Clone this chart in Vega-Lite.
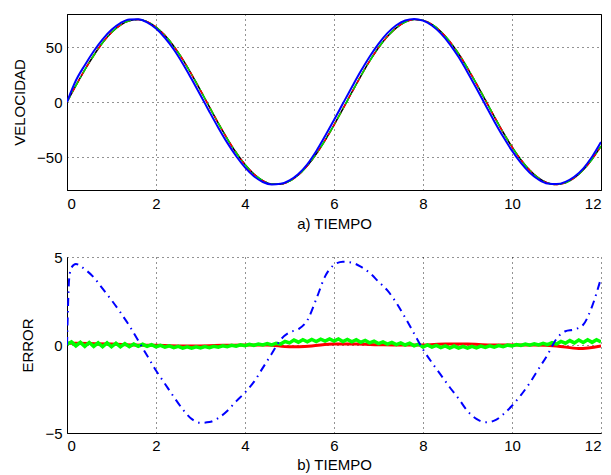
{
  "$schema": "https://vega.github.io/schema/vega-lite/v6.json",
  "padding": {"left": 12, "top": 13, "right": 8, "bottom": 2},
  "background": "white",
  "config": {
    "font": "Liberation Sans",
    "concat": {"spacing": 18},
    "axis": {
      "labelFontSize": 15, "titleFontSize": 15, "titleFontWeight": "normal",
      "labelColor": "black", "titleColor": "black", "domainColor": "black", "domainWidth": 1,
      "ticks": false, "labelPadding": 6, "titlePadding": 9,
      "grid": true, "gridColor": "black", "gridDash": [1, 4], "gridOpacity": 0.85, "gridWidth": 1,
      "labelFont": "Liberation Sans", "titleFont": "Liberation Sans"
    }
  },
  "datasets": {
    "ref": [
      {"t":0,"v":0},{"t":0.2,"v":14.9},{"t":0.4,"v":29.2},{"t":0.6,"v":42.3},{"t":0.8,"v":53.8},{"t":1.0,"v":63.1},{"t":1.2,"v":69.9},{"t":1.4,"v":73.9},{"t":1.6,"v":75.0},{"t":1.8,"v":73.0},{"t":2.0,"v":68.2},{"t":2.2,"v":60.6},{"t":2.4,"v":50.7},{"t":2.6,"v":38.7},{"t":2.8,"v":25.1},{"t":3.0,"v":10.6},{"t":3.2,"v":-4.4},{"t":3.4,"v":-19.2},{"t":3.6,"v":-33.2},{"t":3.8,"v":-45.9},{"t":4.0,"v":-56.8},{"t":4.2,"v":-65.4},{"t":4.4,"v":-71.4},{"t":4.6,"v":-74.5},{"t":4.8,"v":-74.7},{"t":5.0,"v":-71.9},{"t":5.2,"v":-66.3},{"t":5.4,"v":-58.0},{"t":5.6,"v":-47.3},{"t":5.8,"v":-34.8},{"t":6.0,"v":-21.0},{"t":6.2,"v":-6.2},{"t":6.4,"v":8.7},{"t":6.6,"v":23.4},{"t":6.8,"v":37.1},{"t":7.0,"v":49.3},{"t":7.2,"v":59.5},{"t":7.4,"v":67.4},{"t":7.6,"v":72.6},{"t":7.8,"v":74.9},{"t":8.0,"v":74.2},{"t":8.2,"v":70.6},{"t":8.4,"v":64.1},{"t":8.6,"v":55.1},{"t":8.8,"v":43.9},{"t":9.0,"v":30.9},{"t":9.2,"v":16.7},{"t":9.4,"v":1.9},{"t":9.6,"v":-13.1},{"t":9.8,"v":-27.5},{"t":10.0,"v":-40.8},{"t":10.2,"v":-52.5},{"t":10.4,"v":-62.1},{"t":10.6,"v":-69.2},{"t":10.8,"v":-73.6},{"t":11.0,"v":-75.0},{"t":11.2,"v":-73.4},{"t":11.4,"v":-68.9},{"t":11.6,"v":-61.7},{"t":11.8,"v":-52.0},{"t":12.0,"v":-40.2}
    ],
    "blueTop": [
      {"t":0,"v":0},{"t":0.2,"v":19.5},{"t":0.4,"v":33.5},{"t":0.6,"v":46.15},{"t":0.8,"v":57.0},{"t":1.0,"v":65.65},{"t":1.2,"v":71.75},{"t":1.4,"v":75.1},{"t":1.6,"v":75.2},{"t":1.8,"v":72.4},{"t":2.0,"v":66.75},{"t":2.2,"v":58.4},{"t":2.4,"v":47.75},{"t":2.6,"v":35.05},{"t":2.8,"v":20.9},{"t":3.0,"v":6.2},{"t":3.2,"v":-8.8},{"t":3.4,"v":-23.35},{"t":3.6,"v":-36.95},{"t":3.8,"v":-49.1},{"t":4.0,"v":-59.5},{"t":4.2,"v":-67.5},{"t":4.4,"v":-72.7},{"t":4.6,"v":-75.0},{"t":4.8,"v":-74.4},{"t":5.0,"v":-71.2},{"t":5.2,"v":-65.4},{"t":5.4,"v":-56.6},{"t":5.6,"v":-44.7},{"t":5.8,"v":-30.9},{"t":6.0,"v":-16.45},{"t":6.2,"v":-1.45},{"t":6.4,"v":13.4},{"t":6.6,"v":27.85},{"t":6.8,"v":41.2},{"t":7.0,"v":52.9},{"t":7.2,"v":62.6},{"t":7.4,"v":69.8},{"t":7.6,"v":74.15},{"t":7.8,"v":75.55},{"t":8.0,"v":73.95},{"t":8.2,"v":69.6},{"t":8.4,"v":62.4},{"t":8.6,"v":52.7},{"t":8.8,"v":40.85},{"t":9.0,"v":27.15},{"t":9.2,"v":12.5},{"t":9.4,"v":-2.5},{"t":9.6,"v":-17.4},{"t":9.8,"v":-31.45},{"t":10.0,"v":-44.25},{"t":10.2,"v":-55.35},{"t":10.4,"v":-64.25},{"t":10.6,"v":-70.55},{"t":10.8,"v":-74.15},{"t":11.0,"v":-74.65},{"t":11.2,"v":-72.6},{"t":11.4,"v":-68.0},{"t":11.6,"v":-60.55},{"t":11.8,"v":-49.8},{"t":12.0,"v":-36.4}
    ],
    "errBlue": [
      {"t":0,"e":0},{"t":0.05,"e":3.8},{"t":0.1,"e":4.4},{"t":0.2,"e":4.6},{"t":0.4,"e":4.3},{"t":0.6,"e":3.85},{"t":0.8,"e":3.2},{"t":1.0,"e":2.55},{"t":1.2,"e":1.85},{"t":1.4,"e":1.1},{"t":1.6,"e":0.25},{"t":1.8,"e":-0.6},{"t":2.0,"e":-1.45},{"t":2.2,"e":-2.2},{"t":2.4,"e":-2.95},{"t":2.6,"e":-3.65},{"t":2.8,"e":-4.2},{"t":3.0,"e":-4.42},{"t":3.2,"e":-4.38},{"t":3.4,"e":-4.15},{"t":3.6,"e":-3.75},{"t":3.8,"e":-3.2},{"t":4.0,"e":-2.7},{"t":4.2,"e":-2.1},{"t":4.4,"e":-1.3},{"t":4.6,"e":-0.5},{"t":4.8,"e":0.3},{"t":5.0,"e":0.72},{"t":5.2,"e":0.9},{"t":5.4,"e":1.4},{"t":5.6,"e":2.6},{"t":5.8,"e":3.9},{"t":6.0,"e":4.55},{"t":6.2,"e":4.73},{"t":6.4,"e":4.68},{"t":6.6,"e":4.45},{"t":6.8,"e":4.1},{"t":7.0,"e":3.6},{"t":7.2,"e":3.1},{"t":7.4,"e":2.4},{"t":7.6,"e":1.55},{"t":7.8,"e":0.65},{"t":8.0,"e":-0.25},{"t":8.2,"e":-1.0},{"t":8.4,"e":-1.7},{"t":8.6,"e":-2.4},{"t":8.8,"e":-3.05},{"t":9.0,"e":-3.75},{"t":9.2,"e":-4.2},{"t":9.4,"e":-4.39},{"t":9.6,"e":-4.3},{"t":9.8,"e":-3.95},{"t":10.0,"e":-3.45},{"t":10.2,"e":-2.85},{"t":10.4,"e":-2.15},{"t":10.6,"e":-1.35},{"t":10.8,"e":-0.55},{"t":11.0,"e":0.35},{"t":11.2,"e":0.78},{"t":11.4,"e":0.88},{"t":11.6,"e":1.15},{"t":11.8,"e":2.2},{"t":12.0,"e":3.8}
    ],
    "errRed": [
      {"t":0,"e":0.1},{"t":0.5,"e":0.08},{"t":1.0,"e":0.05},{"t":1.5,"e":0.0},{"t":2.0,"e":-0.02},{"t":2.5,"e":-0.05},{"t":3.0,"e":-0.05},{"t":3.5,"e":-0.02},{"t":4.0,"e":0.0},{"t":4.5,"e":0.0},{"t":5.0,"e":-0.1},{"t":5.5,"e":-0.05},{"t":6.0,"e":0.05},{"t":6.5,"e":0.05},{"t":7.0,"e":0.02},{"t":7.5,"e":0.0},{"t":8.0,"e":0.0},{"t":8.5,"e":0.05},{"t":9.0,"e":0.05},{"t":9.5,"e":0.0},{"t":10.0,"e":0.0},{"t":10.5,"e":0.0},{"t":11.0,"e":-0.05},{"t":11.5,"e":-0.2},{"t":12.0,"e":-0.05}
    ],
    "errGreen": [
      {"t":0.0,"e":0.05},{"t":0.1,"e":0.18},{"t":0.2,"e":-0.05},{"t":0.3,"e":0.15},{"t":0.4,"e":-0.08},{"t":0.5,"e":0.14},{"t":0.6,"e":-0.08},{"t":0.7,"e":0.12},{"t":0.8,"e":-0.1},{"t":0.9,"e":0.12},{"t":1.0,"e":-0.1},{"t":1.1,"e":0.1},{"t":1.2,"e":-0.1},{"t":1.3,"e":0.08},{"t":1.4,"e":-0.1},{"t":1.5,"e":0.06},{"t":1.6,"e":-0.08},{"t":1.7,"e":0.04},{"t":1.8,"e":-0.08},{"t":1.9,"e":0.02},{"t":2.0,"e":-0.1},{"t":2.1,"e":-0.02},{"t":2.2,"e":-0.12},{"t":2.3,"e":-0.05},{"t":2.4,"e":-0.15},{"t":2.5,"e":-0.08},{"t":2.6,"e":-0.18},{"t":2.7,"e":-0.1},{"t":2.8,"e":-0.18},{"t":2.9,"e":-0.1},{"t":3.0,"e":-0.17},{"t":3.1,"e":-0.09},{"t":3.2,"e":-0.15},{"t":3.3,"e":-0.07},{"t":3.4,"e":-0.13},{"t":3.5,"e":-0.05},{"t":3.6,"e":-0.1},{"t":3.7,"e":-0.02},{"t":3.8,"e":-0.07},{"t":3.9,"e":0.01},{"t":4.0,"e":-0.04},{"t":4.1,"e":0.04},{"t":4.2,"e":-0.02},{"t":4.3,"e":0.06},{"t":4.4,"e":0.0},{"t":4.5,"e":0.08},{"t":4.6,"e":0.0},{"t":4.7,"e":0.1},{"t":4.8,"e":0.05},{"t":4.9,"e":0.2},{"t":5.0,"e":0.12},{"t":5.1,"e":0.28},{"t":5.2,"e":0.16},{"t":5.3,"e":0.3},{"t":5.4,"e":0.18},{"t":5.5,"e":0.32},{"t":5.6,"e":0.2},{"t":5.7,"e":0.33},{"t":5.8,"e":0.22},{"t":5.9,"e":0.34},{"t":6.0,"e":0.22},{"t":6.1,"e":0.34},{"t":6.2,"e":0.2},{"t":6.3,"e":0.32},{"t":6.4,"e":0.18},{"t":6.5,"e":0.3},{"t":6.6,"e":0.15},{"t":6.7,"e":0.26},{"t":6.8,"e":0.12},{"t":6.9,"e":0.22},{"t":7.0,"e":0.08},{"t":7.1,"e":0.18},{"t":7.2,"e":0.05},{"t":7.3,"e":0.15},{"t":7.4,"e":0.02},{"t":7.5,"e":0.12},{"t":7.6,"e":0.0},{"t":7.7,"e":0.1},{"t":7.8,"e":-0.05},{"t":7.9,"e":0.05},{"t":8.0,"e":-0.12},{"t":8.1,"e":0.0},{"t":8.2,"e":-0.12},{"t":8.3,"e":-0.02},{"t":8.4,"e":-0.15},{"t":8.5,"e":-0.05},{"t":8.6,"e":-0.18},{"t":8.7,"e":-0.06},{"t":8.8,"e":-0.18},{"t":8.9,"e":-0.08},{"t":9.0,"e":-0.18},{"t":9.1,"e":-0.08},{"t":9.2,"e":-0.16},{"t":9.3,"e":-0.06},{"t":9.4,"e":-0.14},{"t":9.5,"e":-0.05},{"t":9.6,"e":-0.12},{"t":9.7,"e":-0.03},{"t":9.8,"e":-0.09},{"t":9.9,"e":0.0},{"t":10.0,"e":-0.06},{"t":10.1,"e":0.02},{"t":10.2,"e":-0.03},{"t":10.3,"e":0.05},{"t":10.4,"e":-0.01},{"t":10.5,"e":0.07},{"t":10.6,"e":0.0},{"t":10.7,"e":0.1},{"t":10.8,"e":0.02},{"t":10.9,"e":0.14},{"t":11.0,"e":0.05},{"t":11.1,"e":0.2},{"t":11.2,"e":0.1},{"t":11.3,"e":0.25},{"t":11.4,"e":0.12},{"t":11.5,"e":0.28},{"t":11.6,"e":0.14},{"t":11.7,"e":0.3},{"t":11.8,"e":0.15},{"t":11.9,"e":0.3},{"t":12.0,"e":0.18}
    ]
  },
  "vconcat": [
    {
      "width": 534, "height": 176,
      "view": {"stroke": "black", "strokeWidth": 1},
      "encoding": {
        "x": {"field": "t", "type": "quantitative", "scale": {"domain": [0, 12], "nice": false, "zero": false},
              "axis": {"values": [0,2,4,6,8,10,12], "title": "a) TIEMPO", "labelPadding": 6, "titlePadding": 5}},
        "y": {"field": "v", "type": "quantitative", "scale": {"domain": [-80, 80], "nice": false},
              "axis": {"values": [-50, 0, 50], "title": "VELOCIDAD", "labelPadding": 5, "titlePadding": 9}}
      },
      "layer": [
        {"data": {"name": "ref"}, "mark": {"type": "line", "color": "black", "strokeWidth": 1.5, "interpolate": "monotone", "clip": true}},
        {"data": {"name": "ref"}, "mark": {"type": "line", "color": "#ff0000", "strokeWidth": 1.5, "strokeDash": [6, 4], "interpolate": "monotone", "clip": true}},
        {"data": {"name": "ref"}, "mark": {"type": "line", "color": "#00e000", "strokeWidth": 1.5, "strokeDash": [7, 4, 1.5, 4], "interpolate": "monotone", "clip": true}},
        {"data": {"name": "blueTop"}, "mark": {"type": "line", "color": "#0000ff", "strokeWidth": 2, "interpolate": "monotone", "clip": true}}
      ]
    },
    {
      "width": 534, "height": 176,
      "view": {"stroke": null},
      "encoding": {
        "x": {"field": "t", "type": "quantitative", "scale": {"domain": [0, 12], "nice": false, "zero": false},
              "axis": {"values": [0,2,4,6,8,10,12], "title": "b) TIEMPO", "labelPadding": 5, "titlePadding": 4}},
        "y": {"field": "e", "type": "quantitative", "scale": {"domain": [-5, 5], "nice": false},
              "axis": {"values": [-5, 0, 5], "title": "ERROR", "labelPadding": 5, "titlePadding": 9}}
      },
      "layer": [
        {"data": {"name": "errRed"}, "mark": {"type": "line", "color": "#ff0000", "strokeWidth": 3, "interpolate": "monotone", "clip": true}},
        {"data": {"name": "errGreen"}, "mark": {"type": "line", "color": "#00ff00", "strokeWidth": 3.5, "interpolate": "linear", "clip": true}},
        {"data": {"name": "errBlue"}, "mark": {"type": "line", "color": "#0000ff", "strokeWidth": 2, "strokeDash": [8, 5, 1.5, 5], "interpolate": "monotone", "clip": true}}
      ]
    }
  ]
}
